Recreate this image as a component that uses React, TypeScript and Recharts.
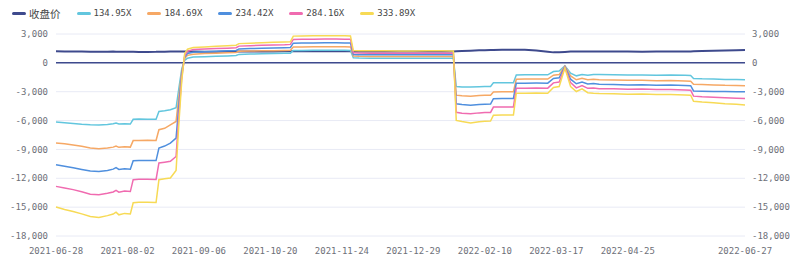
import React from 'react';
import { LineChart, Line, XAxis, YAxis, CartesianGrid, ReferenceLine } from 'recharts';

// trading-day index (0 = 2021-06-28) of each sampled point
const days = [
  0, 3, 6, 9, 12, 15, 18, 20, 21, 22, 24, 26,
  27, 29, 32, 35,
  36, 38, 40, 42,
  43, 44, 45, 46, 48,
  52, 56, 60, 63, 64, 68, 72, 76, 80, 82,
  83, 86, 90, 94, 98, 101, 103,
  104, 106, 110, 115, 120, 125, 130, 135, 138, 139,
  140, 142, 145, 148, 150, 152, 153, 156, 159, 160,
  161, 164, 168, 172, 174, 176, 178, 180, 182, 184, 186, 188,
  190, 195, 200, 205, 210, 215, 220, 222,
  223, 226, 230, 234, 238, 241,
];

const closePrice = [
  1200, 1190, 1180, 1170, 1160, 1150, 1160, 1170, 1160, 1150, 1160, 1150,
  1150, 1140, 1140, 1150,
  1160, 1160, 1170, 1180,
  1180, 1180, 1180, 1170, 1170,
  1160, 1160, 1170, 1170, 1180, 1180, 1190, 1190, 1200, 1200,
  1200, 1200, 1210, 1210, 1200, 1200, 1200,
  1190, 1190, 1180, 1180, 1170, 1170, 1180, 1180, 1190, 1190,
  1200, 1220, 1260, 1300, 1320, 1340, 1340, 1360, 1370, 1370,
  1370, 1350, 1280, 1150, 1090, 1110, 1140, 1170, 1180, 1180, 1180, 1180,
  1180, 1170, 1170, 1160, 1170, 1180, 1190, 1190,
  1200, 1220, 1250, 1280, 1300, 1330,
];

const x13495 = [
  -6150, -6230, -6300, -6380, -6430, -6450, -6400, -6330, -6250, -6360, -6320, -6360,
  -5870, -5840, -5850, -5860,
  -5050, -4980, -4880, -4670,
  -2600, -600, 250, 480, 600,
  640, 680, 720, 760, 880, 910, 940, 960, 990, 1010,
  1280, 1290, 1300, 1300, 1310, 1300, 1290,
  520, 500, 490, 490, 480, 480, 490, 490, 480, 480,
  -2460, -2500, -2520, -2480, -2470, -2450, -2080, -2060, -2070, -2060,
  -1250, -1240, -1230, -1240, -900, -850, -300, -1070, -1350, -1200, -1300, -1220,
  -1220, -1230, -1260, -1250, -1280, -1270, -1300, -1320,
  -1620, -1660, -1670, -1720, -1730, -1760,
];

const x18469 = [
  -8340, -8420, -8550, -8680, -8850, -8930, -8860, -8760, -8640, -8780, -8720, -8760,
  -8080, -8060, -8050, -8060,
  -6950, -6800, -6440, -6090,
  -3400, -900, 450, 780, 900,
  960, 1000, 1050, 1080, 1200, 1230, 1250, 1270, 1290, 1300,
  1650, 1660, 1670, 1680, 1680, 1670, 1660,
  700, 680, 670, 670, 660, 660, 670, 670, 660, 660,
  -3360, -3420, -3460, -3400, -3380, -3360, -3020, -3000, -3010, -3000,
  -1700, -1690, -1680, -1690, -1280, -1220, -350, -1360, -1760, -1600, -1750, -1700,
  -1760, -1780, -1820, -1810, -1850, -1840, -1880, -1900,
  -2220, -2260, -2290, -2340, -2360, -2390,
];

const x23442 = [
  -10590, -10750, -10900, -11080, -11250, -11300, -11180, -11050, -10900, -11080, -11000, -11060,
  -10170, -10150, -10150, -10160,
  -8850, -8650, -8340, -7820,
  -4300, -1200, 600, 980, 1100,
  1150, 1200, 1250, 1290, 1450, 1480, 1510, 1550, 1580, 1600,
  2050, 2060, 2070, 2080, 2080, 2070, 2060,
  870, 850, 840, 840, 830, 830, 840, 840, 830, 830,
  -4260, -4340, -4400, -4320, -4300, -4280, -3720, -3700, -3710, -3700,
  -2120, -2110, -2100, -2110, -1630, -1560, -400, -1700, -2170, -2000, -2200, -2150,
  -2220, -2240, -2290, -2280, -2320, -2310, -2350, -2370,
  -2920, -2940, -2970, -2980, -3000, -3010,
];

const x28416 = [
  -12840, -13000, -13180, -13400, -13650, -13720, -13560, -13420, -13250, -13450, -13330, -13380,
  -12140, -12110, -12100, -12120,
  -10410, -10330, -10240, -9730,
  -5300, -1500, 750, 1200, 1380,
  1430, 1480, 1530, 1570, 1740, 1780, 1820, 1860, 1890, 1920,
  2430, 2450, 2460, 2470, 2470, 2460, 2450,
  1040, 1020, 1010, 1010, 1000, 1000, 1010, 1010, 1000, 1000,
  -5140, -5230, -5300, -5200, -5170, -5150, -4600, -4580, -4590, -4580,
  -2640, -2630, -2610, -2630, -2080, -2000, -470, -2060, -2600, -2350, -2650, -2620,
  -2680, -2700, -2750, -2730, -2780, -2770, -2810, -2840,
  -3460, -3520, -3570, -3630, -3670, -3710,
];

const x33389 = [
  -14980, -15250, -15450, -15700, -15980, -16080, -15880, -15720, -15520, -15800, -15650, -15700,
  -14550, -14500, -14480, -14520,
  -12140, -12060, -11970, -11180,
  -6200, -1800, 950, 1420, 1600,
  1660, 1720, 1780, 1830, 2000, 2050, 2090, 2130, 2170, 2200,
  2780, 2800, 2820, 2830, 2830, 2820, 2800,
  1280, 1260, 1250, 1250, 1240, 1240, 1250, 1250, 1240, 1240,
  -5980, -6100, -6250, -6120, -6080, -6050, -5440, -5420, -5430, -5420,
  -3170, -3150, -3130, -3150, -2550, -2460, -540, -2460, -2980, -2700, -3100, -3150,
  -3180, -3200, -3260, -3240, -3290, -3280, -3330, -3370,
  -4000, -4080, -4160, -4250, -4310, -4370,
];

const tickDays = [0, 25, 50, 75, 100, 125, 150, 175, 200, 241];
const tickLabels = [
  '2021-06-28', '2021-08-02', '2021-09-06', '2021-10-20', '2021-11-24',
  '2021-12-29', '2022-02-10', '2022-03-17', '2022-04-25', '2022-06-27',
];
const yTicks = [-18000, -15000, -12000, -9000, -6000, -3000, 0, 3000];

const series = [
  { key: 'close', name: '收盘价', color: '#3e4a8d', width: 2 },
  { key: 'a', name: '134.95X', color: '#62c6de', width: 1.5 },
  { key: 'b', name: '184.69X', color: '#f6a865', width: 1.5 },
  { key: 'c', name: '234.42X', color: '#4f8fde', width: 1.5 },
  { key: 'd', name: '284.16X', color: '#f06bb0', width: 1.5 },
  { key: 'e', name: '333.89X', color: '#f7da55', width: 1.5 },
];

const chartData = days.map((day, i) => ({
  day,
  close: closePrice[i],
  a: x13495[i],
  b: x18469[i],
  c: x23442[i],
  d: x28416[i],
  e: x33389[i],
}));

const mono = "'DejaVu Sans Mono', 'Noto Sans CJK SC', monospace";
const tickStyle = { fill: '#6e7079', fontSize: 9, fontFamily: mono };
const fmt = (v: number) => v.toLocaleString('en-US');

function LegendRow() {
  return (
    <div style={{ position: 'absolute', left: 12, top: 7, height: 13, display: 'flex', alignItems: 'center' }}>
      {series.map((s) => (
        <div key={s.key} style={{ display: 'flex', alignItems: 'center', marginRight: 16 }}>
          <span style={{ width: 14, height: 3, borderRadius: 2, background: s.color, marginRight: 3 }} />
          <span
            style={{
              color: '#464646',
              fontFamily: s.key === 'close' ? "'Noto Sans CJK SC', sans-serif" : mono,
              fontSize: s.key === 'close' ? 10.5 : 9,
              lineHeight: '13px',
            }}
          >
            {s.name}
          </span>
        </div>
      ))}
    </div>
  );
}

export default function App() {
  return (
    <div style={{ position: 'relative', width: 800, height: 266, background: '#fff' }}>
      <style>{'body{margin:0}'}</style>
      <LineChart width={800} height={266} data={chartData} margin={{ top: 34, right: 0, bottom: 0, left: 0 }}>
        <CartesianGrid yAxisId="left" horizontal vertical={false} stroke="#e8eaf5" />
        <XAxis
          dataKey="day"
          type="number"
          domain={[0, 241]}
          ticks={tickDays}
          interval={0}
          tickFormatter={(v: number) => tickLabels[tickDays.indexOf(v)]}
          axisLine={false}
          tickLine={false}
          tickMargin={6}
          height={30}
          tick={tickStyle}
        />
        <YAxis
          yAxisId="left"
          domain={[-18000, 3000]}
          ticks={yTicks}
          interval={0}
          width={56}
          axisLine={false}
          tickLine={false}
          tickFormatter={fmt}
          tick={tickStyle}
        />
        <YAxis
          yAxisId="right"
          orientation="right"
          domain={[-18000, 3000]}
          ticks={yTicks}
          interval={0}
          width={55}
          axisLine={false}
          tickLine={false}
          tickMargin={1}
          tickFormatter={fmt}
          tick={{ ...tickStyle, textAnchor: 'start' }}
        />
        <ReferenceLine yAxisId="left" y={0} stroke="#3e4a8d" strokeWidth={1.5} />
        {series.map((s) => (
          <Line
            key={s.key}
            yAxisId={s.key === 'close' ? 'right' : 'left'}
            type="linear"
            dataKey={s.key}
            name={s.name}
            stroke={s.color}
            strokeWidth={s.width}
            dot={false}
            activeDot={false}
            isAnimationActive={false}
          />
        ))}
      </LineChart>
      <LegendRow />
    </div>
  );
}
